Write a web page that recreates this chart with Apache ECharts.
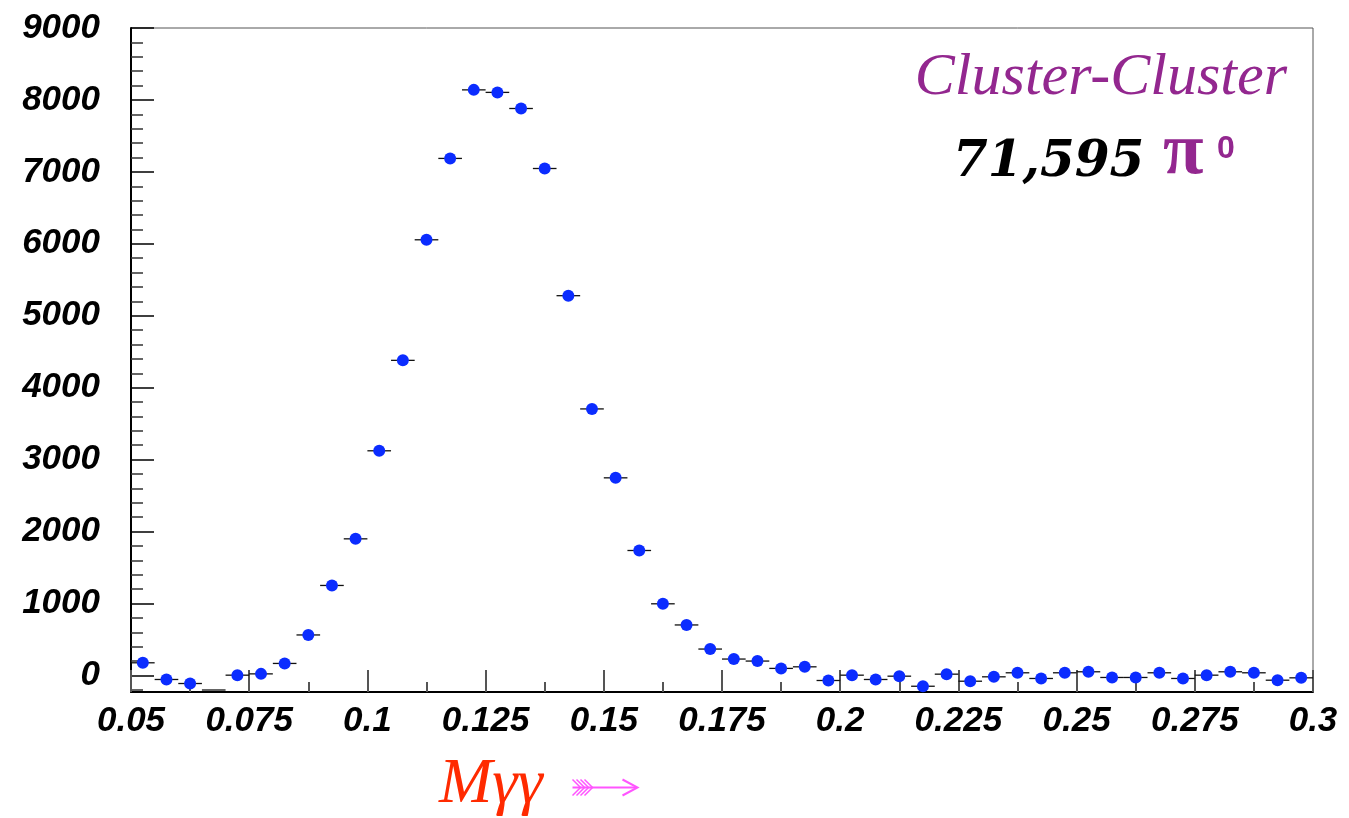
<!DOCTYPE html>
<html>
<head>
<meta charset="utf-8">
<script src="https://cdn.jsdelivr.net/npm/echarts@6/dist/echarts.min.js"></script>
<style>
html,body{margin:0;padding:0;background:#fff;}
#chart{width:1349px;height:818px;}
</style>
</head>
<body>
<div id="chart"></div>
<script>
// ---- data ----
const binCenters = [0.0525,0.0575,0.0625,0.0675,0.0725,0.0775,0.0825,0.0875,0.0925,0.0975,
  0.1025,0.1075,0.1125,0.1175,0.1225,0.1275,0.1325,0.1375,0.1425,0.1475,
  0.1525,0.1575,0.1625,0.1675,0.1725,0.1775,0.1825,0.1875,0.1925,0.1975,
  0.2025,0.2075,0.2125,0.2175,0.2225,0.2275,0.2325,0.2375,0.2425,0.2475,
  0.2525,0.2575,0.2625,0.2675,0.2725,0.2775,0.2825,0.2875,0.2925,0.2975];
const counts = [176,-56,-112,-260,4,22,167,563,1251,1899,
  3123,4380,6056,7187,8140,8105,7881,7047,5279,3705,
  2747,1737,996,702,367,228,200,98,120,-70,
  4,-56,-10,-150,18,-80,-19,37,-42,37,
  51,-28,-28,37,-42,4,51,37,-66,-33];
const binHalfWidth = 0.0025;
const yMajorTicks = [0,1000,2000,3000,4000,5000,6000,7000,8000,9000];
const yMinorTicks = [-200,200,400,600,800,1200,1400,1600,1800,2200,2400,2600,2800,3200,3400,3600,3800,
  4200,4400,4600,4800,5200,5400,5600,5800,6200,6400,6600,6800,7200,7400,7600,7800,8200,8400,8600,8800];
const xMin = 0.05, xMax = 0.3, xStep = 0.025;
const yMin = -230, yMax = 9000;
const titleText = 'Cluster-Cluster';
const countText = '71,595';
const particleText = 'π';
const particleSup = '0';
const xAxisTitle = 'Mγγ';

const chart = echarts.init(document.getElementById('chart'));
const labelFont = {fontFamily:'Liberation Sans', fontWeight:'bold', fontStyle:'italic', fontSize:35, color:'#000'};

const option = {
  animation:false,
  backgroundColor:'#fff',
  grid:{left:131, right:36, top:28, bottom:126, show:true, borderColor:'#555', borderWidth:1, backgroundColor:'transparent'},
  xAxis:{
    type:'value', min:xMin, max:xMax, interval:xStep,
    axisLine:{show:true, onZero:false, lineStyle:{color:'#000', width:2}},
    axisTick:{show:true, inside:true, length:22, lineStyle:{color:'#555', width:2}},
    minorTick:{show:true, splitNumber:2, length:10, lineStyle:{color:'#555', width:2}},
    splitLine:{show:false},
    axisLabel:Object.assign({margin:12, formatter:v=>String(Number(v.toFixed(4)))}, labelFont)
  },
  yAxis:[{
    type:'value', min:yMin, max:yMax, position:'left',
    axisLine:{show:true, onZero:false, lineStyle:{color:'#000', width:2}},
    axisTick:{show:true, inside:true, length:23, customValues:yMajorTicks, lineStyle:{color:'#000', width:1.5}},
    splitLine:{show:false},
    axisLabel:Object.assign({margin:31, customValues:yMajorTicks, formatter:v=>String(Math.round(v))}, labelFont)
  },{
    type:'value', min:yMin, max:yMax, position:'left', offset:0,
    axisLine:{show:false},
    axisTick:{show:true, inside:true, length:12, customValues:yMinorTicks, lineStyle:{color:'#333', width:1.5}},
    splitLine:{show:false},
    axisLabel:{show:false}
  }],
  series:[{
    type:'custom',
    clip:false,
    data:binCenters.map((x,i)=>[x,counts[i]]),
    encode:{x:0, y:1},
    renderItem:function(params, api){
      const x = api.value(0), y = api.value(1);
      const yc = Math.max(y, yMin);
      const pL = api.coord([x - binHalfWidth, yc]);
      const pR = api.coord([x + binHalfWidth, yc]);
      const pC = api.coord([x, yc]);
      const yLine = (y >= yMin) ? pC[1] : pC[1] - 2;
      const children = [{
        type:'line',
        shape:{x1:pL[0], y1:yLine, x2:pR[0], y2:yLine},
        style:{stroke:'#111', lineWidth:1.3}
      }];
      if (y >= yMin) {
        children.push({
          type:'circle',
          shape:{cx:pC[0], cy:pC[1], r:6},
          style:{fill:'#0b2cff'}
        });
      }
      return {type:'group', children:children};
    }
  }],
  graphic:[
    {type:'text', right:1349-1287, top:48, style:{text:titleText, fontFamily:'Liberation Serif', fontStyle:'italic', fontSize:60, fill:'#93278f'}},
    {type:'text', left:953, top:138, style:{text:countText, fontFamily:'DejaVu Serif', fontStyle:'italic', fontWeight:'bold', fontSize:50, fill:'#000'}},
    {type:'text', left:1163, top:117, style:{text:particleText, fontFamily:'Liberation Serif', fontWeight:'bold', fontSize:74, fill:'#93278f'}},
    {type:'text', left:1217, top:133, style:{text:particleSup, fontFamily:'Liberation Sans', fontWeight:'bold', fontSize:32, fill:'#93278f'}},
    {type:'text', left:439, top:753, style:{text:xAxisTitle, fontFamily:'Liberation Serif', fontStyle:'italic', fontSize:64, fill:'#ff2a00'}},
    // feathered arrow
    {type:'group', left:570, top:777, children:[
      {type:'line', shape:{x1:0,y1:10,x2:64,y2:10}, style:{stroke:'#ff55ff', lineWidth:2}},
      {type:'polyline', shape:{points:[[50,2],[65,10],[50,18]]}, style:{stroke:'#ff55ff', lineWidth:2, fill:null}},
      {type:'polyline', shape:{points:[[0,2],[8,10],[0,18]]}, style:{stroke:'#ff55ff', lineWidth:1.5, fill:null}},
      {type:'polyline', shape:{points:[[4,2],[12,10],[4,18]]}, style:{stroke:'#ff55ff', lineWidth:1.5, fill:null}},
      {type:'polyline', shape:{points:[[8,2],[16,10],[8,18]]}, style:{stroke:'#ff55ff', lineWidth:1.5, fill:null}},
      {type:'polyline', shape:{points:[[12,2],[20,10],[12,18]]}, style:{stroke:'#ff55ff', lineWidth:1.5, fill:null}}
    ]}
  ]
};
chart.setOption(option);
</script>
</body>
</html>
